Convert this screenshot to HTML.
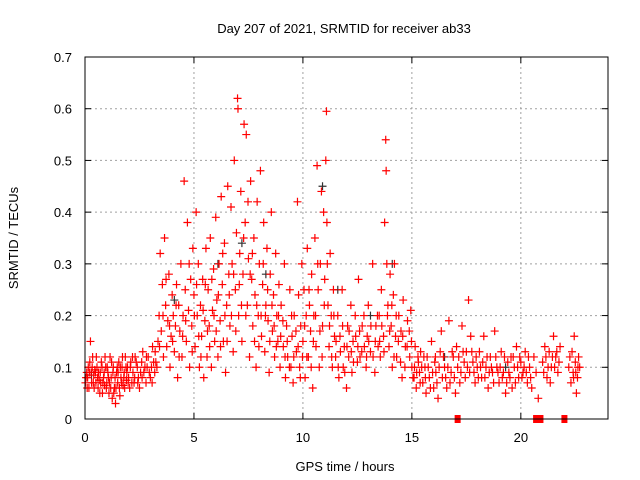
<!DOCTYPE html>
<html><head><meta charset="utf-8"><style>
body{margin:0;background:#fff}
svg{display:block;font-family:"Liberation Sans",sans-serif}
</style></head><body>
<svg id="c" width="640" height="480" viewBox="0 0 640 480">
<rect width="640" height="480" fill="#fff"/>
<text x="344" y="33" font-size="13" text-anchor="middle">Day 207 of 2021, SRMTID for receiver ab33</text>
<text x="345" y="471" font-size="13" text-anchor="middle">GPS time / hours</text>
<text x="18" y="238" font-size="13" text-anchor="middle" transform="rotate(-90 18 238)">SRMTID / TECUs</text>
<g id="grid"></g>
<g id="ticks"></g>
<g id="pts"></g>
<rect x="85" y="57" width="523" height="362" fill="none" stroke="#000" stroke-width="1"/>
</svg>
<script>
const xTicks=[0,5,10,15,20];
const yTicks=[0,0.1,0.2,0.3,0.4,0.5,0.6,0.7];
const yTickLabels=["0","0.1","0.2","0.3","0.4","0.5","0.6","0.7"];
const redT=[0.05,0.1,0.15,0.2,0.25,0.3,0.35,0.4,0.45,0.5,0.55,0.6,0.65,0.7,0.75,0.8,0.85,0.9,0.95,
1.0,1.05,1.1,1.15,1.2,1.25,1.3,1.35,1.4,1.45,1.5,1.55,1.6,1.65,1.7,1.75,1.8,1.85,1.9,1.95,
2.0,2.05,2.1,2.2,2.25,2.3,2.4,2.45,2.5,2.6,2.65,2.7,2.8,2.85,2.9,3.0,3.05,3.1,3.2,3.25,
3.35,3.4,3.45,3.5,3.55,3.6,3.65,3.7,3.75,3.8,3.85,3.9,3.95,4.0,4.05,4.1,4.15,4.2,4.25,4.3,4.35,4.4,4.45,4.5,4.55,4.6,4.65,4.7,4.75,4.8,4.85,4.9,4.95,5.0,
5.05,5.1,5.15,5.2,5.25,5.3,5.35,5.4,5.45,5.5,5.55,5.6,5.65,5.7,5.75,5.8,5.85,5.9,5.95,6.0,6.05,6.1,6.15,6.2,6.25,6.3,6.35,6.4,6.45,6.5,6.55,6.6,6.65,6.7,6.75,6.8,6.85,6.9,6.95,7.0,7.02,7.05,7.1,
7.15,7.2,7.25,7.3,7.35,7.4,7.45,7.5,7.55,7.6,7.65,7.7,7.75,7.8,7.85,7.9,7.95,8.0,8.05,8.1,8.15,8.2,8.25,8.3,8.35,8.4,8.45,8.5,8.55,8.6,8.65,8.7,8.75,8.8,8.85,8.9,8.95,
9.0,9.1,9.15,9.2,9.25,9.3,9.4,9.45,9.5,9.55,9.6,9.7,9.75,9.8,9.85,9.9,9.95,
10.0,10.05,10.1,10.15,10.2,10.25,10.3,10.35,10.4,10.45,10.5,10.55,10.6,10.65,10.7,10.75,10.8,10.85,10.9,10.95,11.0,11.05,11.08,11.1,11.15,11.2,11.25,11.3,11.35,11.4,11.45,
11.5,11.6,11.65,11.7,11.8,11.85,11.9,12.0,12.05,12.1,12.2,12.25,12.3,12.4,12.5,12.55,12.6,12.7,12.8,12.9,12.95,13.0,13.1,13.2,13.3,13.35,13.45,
13.5,13.55,13.6,13.7,13.75,13.8,13.82,13.85,13.9,13.95,14.0,14.05,14.1,14.15,14.2,14.25,14.3,14.4,14.5,14.55,14.6,14.7,14.8,14.9,14.95,
15.0,15.1,15.15,15.2,15.3,15.35,15.4,15.5,15.6,15.65,15.7,15.8,15.9,16.0,16.05,16.1,16.2,16.3,16.35,16.4,16.5,16.6,16.7,16.8,16.9,17.0,17.05,17.1,17.2,17.3,17.4,17.5,17.6,17.65,17.7,17.8,17.9,18.0,18.1,18.2,18.3,18.4,18.5,18.6,18.7,18.8,18.9,19.0,19.1,19.2,19.3,19.4,19.5,19.55,19.6,19.7,19.8,19.9,20.0,20.1,20.2,20.3,20.4,20.5,
20.6,20.7,20.8,21.0,21.1,21.2,21.3,21.4,21.5,21.6,21.7,21.8,22.2,22.3,22.35,22.4,22.45,22.5,22.55,22.6,22.65,22.7];
const redV=[.08,.06,.1,.09,.15,.07,.12,.085,.095,.07,.1,.06,.075,.09,.11,.05,.08,.065,.1,
.07,.09,.05,.12,.08,.04,.1,.06,.03,.09,.07,.11,.045,.08,.1,.065,.09,.12,.075,.1,
.08,.06,.11,.09,.07,.12,.1,.08,.06,.11,.13,.09,.07,.1,.12,.08,.1,.14,.09,.11,
.15,.2,.32,.17,.26,.12,.35,.22,.14,.19,.28,.1,.16,.24,.2,.13,.18,.26,.08,.22,.17,.3,.12,.2,.46,.25,.15,.38,.21,.1,.27,.18,.33,.24,
.14,.4,.2,.3,.1,.22,.16,.27,.08,.19,.33,.12,.25,.18,.35,.1,.21,.29,.15,.39,.23,.12,.3,.19,.43,.26,.15,.34,.09,.22,.45,.28,.18,.41,.3,.13,.5,.25,.36,.62,.6,.2,.32,
.44,.15,.28,.57,.38,.55,.22,.31,.12,.46,.27,.18,.35,.24,.1,.42,.2,.3,.48,.16,.26,.38,.13,.22,.33,.19,.09,.28,.4,.17,.24,.12,.32,.2,.15,.26,.1,
.22,.14,.3,.08,.18,.12,.25,.1,.16,.07,.2,.13,.42,.24,.1,.18,.3,
.15,.25,.08,.2,.33,.12,.22,.17,.28,.06,.2,.35,.14,.49,.25,.1,.3,.44,.18,.4,.27,.5,.595,.38,.22,.14,.32,.2,.1,.25,.16,
.12,.2,.08,.16,.25,.1,.14,.06,.18,.12,.22,.09,.15,.2,.11,.27,.17,.13,.2,.1,.16,.22,.13,.3,.09,.18,.14,
.2,.12,.25,.16,.38,.54,.48,.3,.22,.14,.28,.18,.1,.24,.3,.16,.12,.2,.17,.08,.23,.14,.19,.12,.21,
.1,.08,.14,.06,.11,.09,.13,.07,.1,.05,.12,.08,.15,.06,.11,.09,.04,.13,.17,.08,.1,.06,.19,.09,.12,.05,.14,.1,.07,.18,.11,.13,.23,.09,.16,.11,.07,.1,.13,.08,.16,.1,.06,.12,.09,.17,.1,.07,.13,.09,.05,.11,.08,.12,.06,.1,.14,.08,.11,.09,.13,.07,.1,.06,
.12,.09,.04,.11,.14,.08,.13,.1,.16,.12,.09,.14,.1,.07,.13,.09,.16,.11,.05,.08,.12,.1];
const redT2=[0.02,0.08,0.12,0.18,0.22,0.28,0.33,0.38,0.42,0.48,0.52,0.58,0.62,0.68,0.72,0.78,0.82,0.88,0.92,0.98,1.02,1.08,1.12,1.18,1.22,1.28,1.32,1.38,1.42,1.48,1.52,1.58,1.62,1.68,1.72,1.78,1.82,1.88,1.92,1.98,2.08,2.15,2.18,2.28,2.35,2.42,2.55,2.62,2.75,2.82,2.95,3.08,3.15,3.22,3.3,
3.42,3.58,3.72,3.88,4.02,4.18,4.32,4.48,4.62,4.78,4.92,5.02,5.12,5.22,5.32,5.42,5.52,5.62,5.72,5.82,5.92,6.02,6.12,6.22,6.32,6.42,6.52,6.62,6.72,6.82,6.92,7.08,7.18,7.28,7.38,7.48,7.58,7.68,7.78,7.88,7.98,8.08,8.18,8.28,8.38,8.48,8.58,8.68,8.78,8.88,8.98,9.08,9.18,9.28,9.38,9.48,9.58,9.68,9.78,9.88,9.98,
10.08,10.18,10.28,10.38,10.48,10.58,10.68,10.78,10.88,10.98,11.12,11.22,11.32,11.42,11.52,11.62,11.72,11.82,11.92,12.02,12.12,12.22,12.32,12.42,12.52,12.62,12.72,12.82,12.92,13.02,13.12,13.22,13.32,13.42,13.52,13.62,13.72,13.88,13.98,14.08,14.18,14.28,14.38,14.48,14.58,14.68,14.78,14.88,14.98,
15.05,15.12,15.22,15.28,15.38,15.45,15.55,15.62,15.75,15.85,15.95,16.08,16.15,16.25,16.45,16.55,16.65,16.75,16.85,16.95,17.15,17.25,17.35,17.45,17.55,17.75,17.85,17.95,18.05,18.15,18.25,18.35,18.45,18.55,18.65,18.75,18.85,18.95,19.05,19.15,19.25,19.35,19.45,19.65,19.75,19.85,19.95,20.05,20.15,20.25,20.35,20.45,21.05,21.15,21.25,21.35,21.45,21.55,21.65,21.75,22.25,22.42,22.52,22.62];
const redV2=[.07,.09,.08,.06,.11,.09,.1,.07,.06,.09,.12,.08,.09,.05,.07,.1,.07,.09,.12,.06,.1,.08,.07,.06,.11,.09,.05,.08,.06,.1,.09,.06,.1,.07,.12,.08,.06,.1,.09,.07,.1,.07,.12,.08,.11,.07,.09,.08,.1,.12,.09,.07,.11,.13,.1,
.14,.2,.27,.18,.15,.22,.12,.16,.19,.3,.13,.2,.26,.16,.12,.21,.26,.17,.14,.27,.2,.17,.24,.14,.32,.2,.15,.24,.2,.28,.17,.26,.22,.35,.2,.42,.28,.32,.15,.22,.14,.2,.3,.2,.25,.15,.22,.18,.14,.2,.16,.19,.12,.15,.1,.2,.12,.17,.14,.08,.12,
.18,.12,.25,.1,.15,.2,.3,.17,.12,.22,.3,.18,.12,.2,.15,.1,.13,.18,.09,.14,.17,.13,.11,.16,.14,.12,.18,.14,.12,.15,.18,.12,.15,.2,.15,.18,.13,.2,.17,.22,.12,.2,.15,.11,.16,.1,.14,.17,.15,
.08,.1,.09,.12,.07,.1,.12,.08,.1,.06,.09,.12,.07,.1,.12,.08,.1,.07,.13,.08,.12,.09,.13,.08,.1,.13,.09,.12,.08,.1,.11,.08,.12,.09,.1,.07,.12,.09,.1,.08,.12,.07,.09,.12,.07,.1,.12,.08,.1,.09,.12,.08,.09,.12,.1,.07,.12,.1,.13,.11,.12,.08,.09,.1];
const blackT=[0.3,4.1,6.1,7.2,8.3,10.9,11.6,13.1,14.1,16.5,19.3];
const blackV=[.085,.23,.3,.34,.28,.45,.25,.2,.3,.12,.1];
const zeroT=[17.1,20.7,20.8,20.9,22.0];

const X0=85,X1=608,Y0=419,Y1=57;
const sx=t=>X0+t/24*(X1-X0);
const sy=v=>Y0-v/0.7*(Y0-Y1);
const NS='http://www.w3.org/2000/svg';
function mk(tag,attrs,parent){const e=document.createElementNS(NS,tag);for(const k in attrs)e.setAttribute(k,attrs[k]);parent.appendChild(e);return e;}
const grid=document.getElementById('grid'),ticks=document.getElementById('ticks'),pts=document.getElementById('pts');
xTicks.forEach(t=>{const x=sx(t);
 if(t>0){const g=mk('line',{x1:x,x2:x,y1:Y0,y2:Y1,stroke:'#a0a0a0','stroke-dasharray':'2,3'},grid);
 
 }
 mk('line',{x1:x,x2:x,y1:Y0,y2:Y0-6,stroke:'#000'},ticks);
 mk('line',{x1:x,x2:x,y1:Y1,y2:Y1+6,stroke:'#000'},ticks);
 const l=mk('text',{x:x,y:Y0+23,'font-size':13,'text-anchor':'middle'},ticks);l.textContent=t;
 
 });
yTicks.forEach((v,i)=>{const y=sy(v);
 if(v>0&&v<0.7){const g=mk('line',{x1:X0,x2:X1,y1:y,y2:y,stroke:'#a0a0a0','stroke-dasharray':'2,3'},grid);
 
 }
 mk('line',{x1:X0,x2:X0+6,y1:y,y2:y,stroke:'#000'},ticks);
 mk('line',{x1:X1,x2:X1-6,y1:y,y2:y,stroke:'#000'},ticks);
 const l=mk('text',{x:X0-13,y:y+5,'font-size':13,'text-anchor':'end'},ticks);l.textContent=yTickLabels[i];
 
 });
function plus(t,v,col,name){const x=sx(t),y=sy(v);
 const p=mk('path',{d:`M${x-4},${y}H${x+4}M${x},${y-4}V${y+4}`,stroke:col,'stroke-width':1.2,fill:'none'},pts);
 
 }
blackT.forEach((t,i)=>plus(t,blackV[i],'#333','black-point'));
redT.forEach((t,i)=>plus(t,redV[i],'#ff0000','red-point'));
redT2.forEach((t,i)=>plus(t,redV2[i],'#ff0000','red-point'));
zeroT.forEach(t=>{const r=mk('rect',{x:sx(t)-3,y:Y0-4,width:6,height:8,fill:'#ff0000'},pts);
 
 });
</script>
</body></html>
